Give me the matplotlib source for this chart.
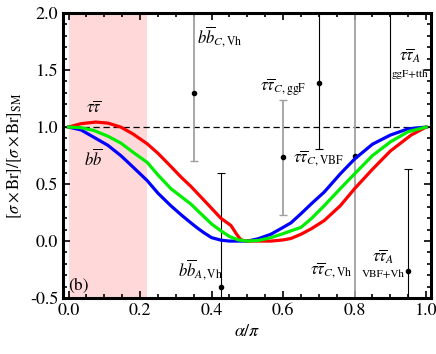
import numpy as np
import matplotlib.pyplot as plt
from matplotlib.ticker import MultipleLocator

plt.rcParams['font.family'] = ['STIXGeneral', 'DejaVu Serif']
plt.rcParams['mathtext.fontset'] = 'stix'

# curves
a_bg = [0, 0.035, 0.071, 0.11, 0.146, 0.18, 0.22, 0.25, 0.286, 0.315, 0.342, 0.36, 0.38, 0.40, 0.426,
        0.45, 0.475, 0.5, 0.53, 0.566, 0.6, 0.622, 0.65, 0.68, 0.715, 0.76, 0.8, 0.85, 0.9, 0.95, 1.0]
bb = [1.0, 0.975, 0.91, 0.84, 0.75, 0.65, 0.53, 0.42, 0.31, 0.23, 0.16, 0.115, 0.07, 0.03, 0.008,
      0.0, 0.0, 0.0, 0.02, 0.06, 0.12, 0.16, 0.24, 0.33, 0.43, 0.59, 0.72, 0.85, 0.93, 0.985, 1.0]
mid = [1.0, 0.995, 0.97, 0.92, 0.86, 0.78, 0.69, 0.58, 0.46, 0.39, 0.325, 0.27, 0.21, 0.15, 0.09,
       0.04, 0.01, 0.0, 0.005, 0.03, 0.065, 0.09, 0.12, 0.2, 0.31, 0.46, 0.59, 0.75, 0.87, 0.96, 1.0]
a_r = [0, 0.035, 0.076, 0.11, 0.146, 0.18, 0.22, 0.25, 0.286, 0.315, 0.342, 0.38, 0.426, 0.454,
       0.47, 0.482, 0.5, 0.53, 0.566, 0.6, 0.622, 0.65, 0.68, 0.715, 0.76, 0.8, 0.85, 0.9, 0.958, 1.0]
tautau = [1.0, 1.03, 1.044, 1.035, 1.0, 0.94, 0.853, 0.77, 0.655, 0.56, 0.48, 0.354, 0.2, 0.137,
          0.06, 0.01, 0.0, 0.0, 0.0, 0.01, 0.023, 0.06, 0.11, 0.18, 0.31, 0.46, 0.63, 0.79, 0.93, 1.0]

# measurements: x, central, low, high
ex_gray = [0.35, 0.60, 0.80]
ey_gray = [1.30, 0.74, 0.75]
elo_gray = [0.70, 0.23, -1.0]
ehi_gray = [2.5, 1.235, 2.5]
ex_blk = [0.425, 0.70, 0.95]
ey_blk = [-0.40, 1.39, -0.26]
elo_blk = [-1.5, 0.81, -1.5]
ehi_blk = [0.60, 2.5, 0.63]
x_ggf, lo_ggf = 0.90, 1.0

fig = plt.figure(figsize=(4.36, 3.54), dpi=100)
ax = fig.add_axes([0.145, 0.158, 0.843, 0.805])

ax.axvspan(0, 0.22, color='#ffd9d9', lw=0, zorder=0)
ax.axhline(1.0, color='k', lw=0.9, dashes=(5, 3), zorder=1)

ax.errorbar(ex_gray, ey_gray,
            yerr=[np.array(ey_gray) - np.array(elo_gray), np.array(ehi_gray) - np.array(ey_gray)],
            fmt='o', ms=3, color='k', ecolor='#a0a0a0', elinewidth=1.3, capsize=3, capthick=1, zorder=2)
ax.errorbar(ex_blk, ey_blk,
            yerr=[np.array(ey_blk) - np.array(elo_blk), np.array(ehi_blk) - np.array(ey_blk)],
            fmt='o', ms=3, color='k', ecolor='k', elinewidth=0.8, capsize=3, capthick=0.8, zorder=2)
ax.plot([x_ggf, x_ggf], [lo_ggf, 2.5], color='k', lw=0.8, zorder=2)

ax.plot(a_bg, bb, color='#0000ff', lw=2.3, zorder=3, solid_joinstyle='round')
ax.plot(a_r, tautau, color='#ff0000', lw=2.3, zorder=3, solid_joinstyle='round')
ax.plot(a_bg, mid, color='#00ee00', lw=2.3, zorder=4, solid_joinstyle='round')

fs = 12
ax.text(0.07, 1.16, r'$\tau\overline{\tau}$', fontsize=fs, ha='center', va='center')
ax.text(0.07, 0.72, r'$b\overline{b}$', fontsize=fs, ha='center', va='center')
ax.text(0.36, 1.79, r'$b\overline{b}_{C,\mathrm{Vh}}$', fontsize=fs, ha='left', va='center')
ax.text(0.60, 1.35, r'$\tau\overline{\tau}_{C,\mathrm{ggF}}$', fontsize=fs, ha='center', va='center')
ax.text(0.70, 0.72, r'$\tau\overline{\tau}_{C,\mathrm{VBF}}$', fontsize=fs, ha='center', va='center')
ax.text(0.955, 1.63, r'$\tau\overline{\tau}_{A}$', fontsize=fs, ha='center', va='center')
ax.text(0.955, 1.46, 'ggF+tth', fontsize=8, ha='center', va='center')
ax.text(0.735, -0.26, r'$\tau\overline{\tau}_{C,\mathrm{Vh}}$', fontsize=fs, ha='center', va='center')
ax.text(0.88, -0.14, r'$\tau\overline{\tau}_{A}$', fontsize=fs, ha='center', va='center')
ax.text(0.88, -0.29, 'VBF+Vh', fontsize=8, ha='center', va='center')
ax.text(0.37, -0.26, r'$b\overline{b}_{A,\mathrm{Vh}}$', fontsize=fs, ha='center', va='center')
ax.text(0.0, -0.39, '(b)', fontsize=12.5, ha='left', va='center')

ax.set_xlim(-0.015, 1.013)
ax.set_ylim(-0.5, 2.0)
ax.xaxis.set_major_locator(MultipleLocator(0.2))
ax.xaxis.set_minor_locator(MultipleLocator(0.05))
ax.yaxis.set_major_locator(MultipleLocator(0.5))
ax.yaxis.set_minor_locator(MultipleLocator(0.1))
ax.xaxis.set_major_formatter(plt.FormatStrFormatter('%.1f'))
ax.yaxis.set_major_formatter(plt.FormatStrFormatter('%.1f'))
ax.tick_params(which='both', direction='in', top=True, right=True, width=1.2, labelsize=13)
ax.tick_params(which='major', length=5)
ax.tick_params(which='minor', length=3)
for s in ax.spines.values():
    s.set_linewidth(2.2)

ax.set_xlabel(r'$\alpha/\pi$', fontsize=13)
ax.set_ylabel(r'$[\sigma\times\mathrm{Br}]/[\sigma\times\mathrm{Br}]_{\mathrm{SM}}$', fontsize=12)

fig.savefig('out.png', dpi=100)
